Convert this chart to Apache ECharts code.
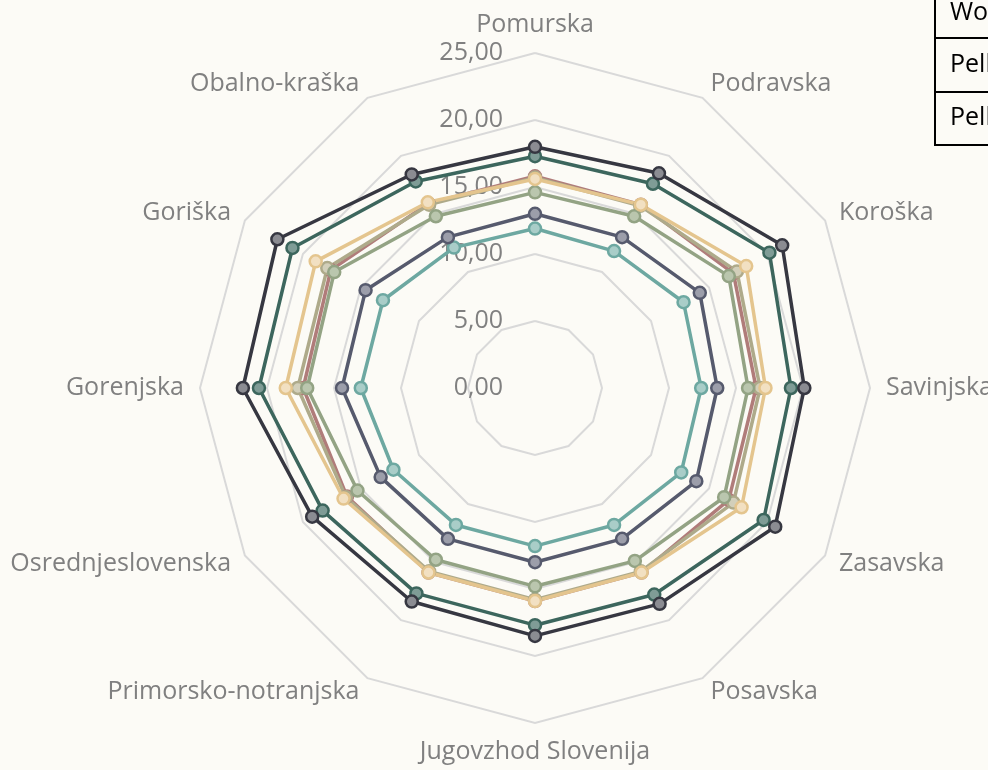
<!DOCTYPE html>
<html>
<head>
<meta charset="utf-8">
<script src="https://cdn.jsdelivr.net/npm/echarts@6/dist/echarts.min.js"></script>
<style>
  html, body { margin: 0; padding: 0; background: #fcfbf6; }
  #chart { width: 988px; height: 770px; }
</style>
</head>
<body>
<div id="chart"></div>
<script>
// regions, clockwise from the top
const regions = ["Pomurska", "Podravska", "Koroška", "Savinjska", "Zasavska", "Posavska",
  "Jugovzhod Slovenija", "Primorsko-notranjska", "Osrednjeslovenska", "Gorenjska", "Goriška", "Obalno-kraška"];

const darkVals     = [18.0, 18.5, 21.3, 20.1, 20.7, 18.6, 18.5, 18.4, 19.2, 21.8, 22.2, 18.4];
const darkTealVals = [17.3, 17.6, 20.2, 19.1, 19.7, 17.8, 17.7, 17.7, 18.3, 20.6, 20.9, 17.8];
const tanVals      = [15.6, 15.8, 18.2, 17.2, 17.8, 15.9, 15.9, 15.9, 16.5, 18.6, 18.9, 16.0];
const khakiVals    = [15.7, 15.7, 17.4, 16.8, 17.1, 15.8, 15.8, 15.8, 16.3, 17.7, 17.9, 15.8];
const roseVals     = [15.8, 15.8, 17.1, 16.5, 16.7, 15.9, 15.9, 15.9, 16.2, 17.3, 17.6, 15.9];
const sageVals     = [14.6, 14.8, 16.7, 15.9, 16.3, 14.9, 14.8, 14.8, 15.3, 17.0, 17.3, 14.8];
const slateVals    = [13.0, 13.0, 14.2, 13.6, 13.9, 13.0, 13.0, 13.0, 13.3, 14.4, 14.6, 13.0];
const tealVals     = [11.9, 11.8, 12.8, 12.4, 12.6, 11.8, 11.8, 11.8, 12.2, 13.0, 13.1, 12.1];

const legendRows = ["Wood chips", "Pellets (bulk)", "Pellets (bags)"];

const axisMax = 25;

// echarts goes counter-clockwise, so flip everything after the first item
const ccw = (arr) => [arr[0]].concat(arr.slice(1).reverse());

const series = [
  { name: "rose", vals: roseVals, line: "#b07c7a", fill: "#d3b3b0" },
  { name: "khaki", vals: khakiVals, line: "#aeaa8a", fill: "#d2cfba" },
  { name: "sage", vals: sageVals, line: "#93a384", fill: "#bac6ae" },
  { name: "tan", vals: tanVals, line: "#e4c58e", fill: "#f2e0c2" },
  { name: "teal", vals: tealVals, line: "#6da8a1", fill: "#a9cdc8" },
  { name: "slate", vals: slateVals, line: "#565a6d", fill: "#9c9eaa" },
  { name: "dark teal", vals: darkTealVals, line: "#3c665d", fill: "#7f9c96" },
  { name: "dark", vals: darkVals, line: "#363741", fill: "#8b8c92" },
];

const indicator = ccw(regions).map((r, i) => {
  const ind = { name: r, min: 0, max: axisMax };
  if (i === 0) {
    ind.axisLabel = {
      show: true,
      fontSize: 25,
      color: "#808080",
      fontFamily: "Open Sans",
      margin: 32,
      formatter: (v) => Number(v).toFixed(2).replace(".", ","),
    };
  }
  return ind;
});

const chart = echarts.init(document.getElementById("chart"));

chart.setOption({
  backgroundColor: "#fcfbf6",
  animation: false,
  radar: {
    center: [535, 388],
    radius: 335,
    startAngle: 90,
    splitNumber: 5,
    shape: "polygon",
    indicator: indicator,
    axisName: { color: "#808080", fontSize: 25, fontFamily: "Open Sans" },
    nameGap: 16,
    axisLine: { show: false },
    axisTick: { show: false },
    axisLabel: { show: false },
    splitArea: { show: false },
    splitLine: { lineStyle: { color: "#d9d9d9", width: 2 } },
  },
  series: series.map((s) => ({
    type: "radar",
    name: s.name,
    symbol: "circle",
    symbolSize: 12,
    z: 2,
    lineStyle: { color: s.line, width: 3.5 },
    itemStyle: { color: s.fill, borderColor: s.line, borderWidth: 2.5 },
    data: [{ value: ccw(s.vals), name: s.name }],
  })),
  graphic: [
    {
      type: "group",
      x: 935,
      y: 0,
      z: 10,
      children: [
        { type: "rect", shape: { x: 0, y: -10, width: 120, height: 155 },
          style: { fill: "none", stroke: "#000", lineWidth: 2 } },
        { type: "line", shape: { x1: 0, y1: 38, x2: 120, y2: 38 }, style: { stroke: "#000", lineWidth: 2 } },
        { type: "line", shape: { x1: 0, y1: 92, x2: 120, y2: 92 }, style: { stroke: "#000", lineWidth: 2 } },
      ].concat(legendRows.map((t, i) => ({
        type: "text",
        style: {
          x: 15, y: [13, 65, 118][i], text: t,
          fill: "#000", fontSize: 25, fontFamily: "Open Sans", verticalAlign: "middle",
        },
      }))),
    },
  ],
});
</script>
</body>
</html>
